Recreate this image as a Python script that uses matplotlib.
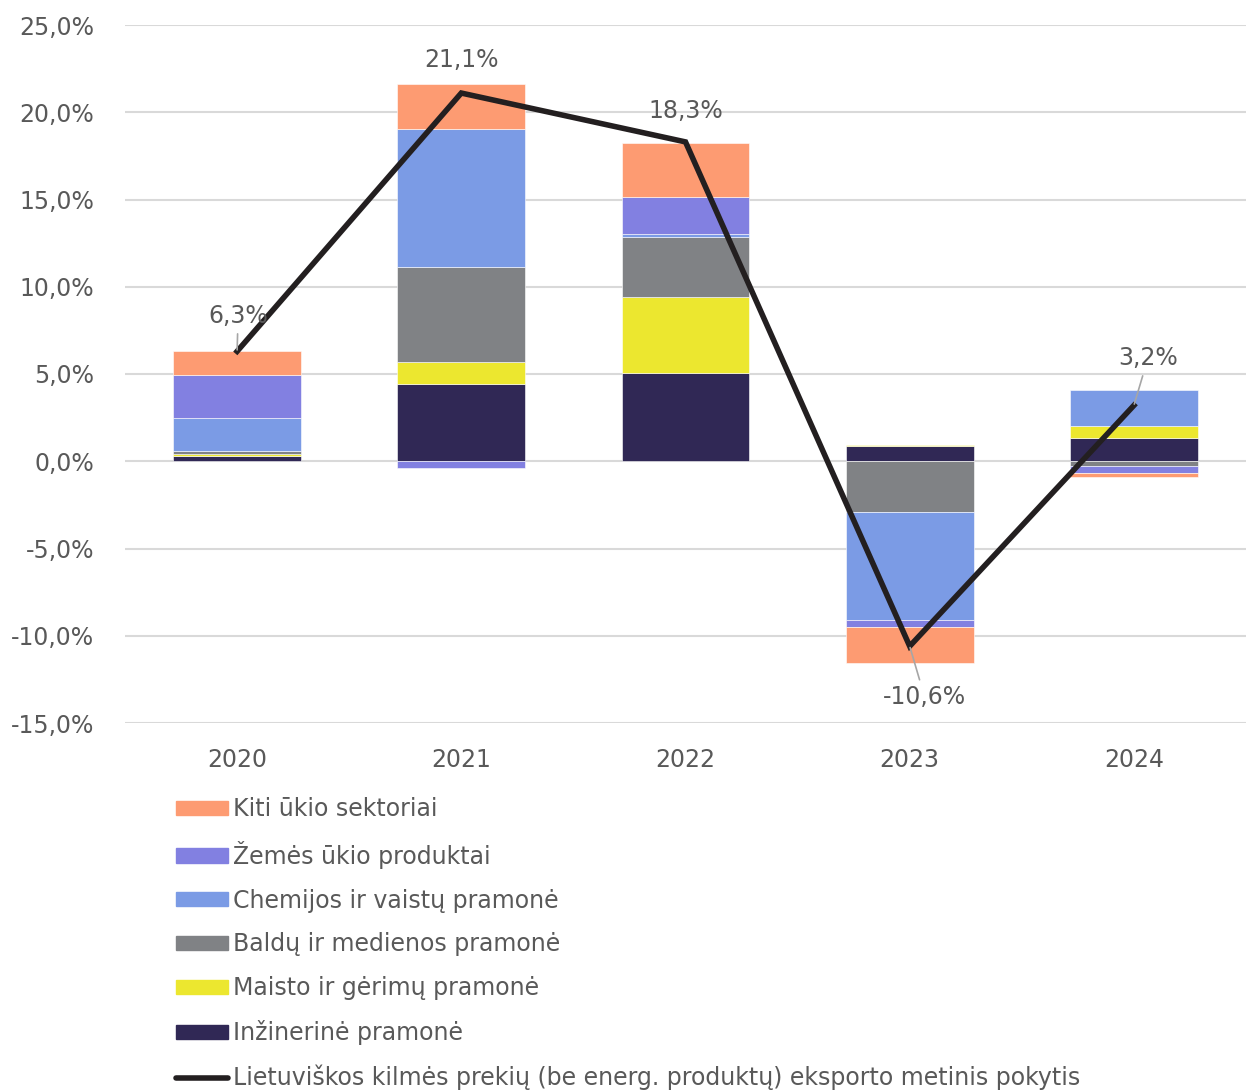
import numpy as np
import matplotlib.pyplot as plt
from matplotlib.patches import Patch
from matplotlib.lines import Line2D

# eksporto pokyčio įnašai, procentiniais punktais
years = ["2020", "2021", "2022", "2023", "2024"]
inzinerine = [0.30, 4.45, 5.05, 0.90, 1.35]
maisto = [0.10, 1.25, 4.35, 0.05, 0.65]
baldu = [0.20, 5.45, 3.45, -2.90, -0.25]
chemijos = [1.85, 7.90, 0.15, -6.20, 2.10]
zemes = [2.50, -0.40, 2.15, -0.40, -0.45]
kiti = [1.35, 2.55, 3.10, -2.05, -0.20]
total = [6.3, 21.1, 18.3, -10.6, 3.2]

series_names = ["Inžinerinė pramonė", "Maisto ir gėrimų pramonė",
                "Baldų ir medienos pramonė", "Chemijos ir vaistų pramonė",
                "Žemės ūkio produktai", "Kiti ūkio sektoriai"]
line_name = "Lietuviškos kilmės prekių (be energ. produktų) eksporto metinis pokytis"
colors = ["#302855", "#ECE72F", "#808285", "#7B9BE5", "#8280E1", "#FD9B72"]

text_col = "#595959"
fs = 17
plt.rcParams['font.family'] = ['DejaVu Sans']

fig = plt.figure(figsize=(12.46, 10.91), dpi=100)
ax = fig.add_axes([125 / 1246, 1 - 723 / 1091, 1 - 125 / 1246, (723 - 25) / 1091])

x = np.arange(len(years))
pos_base = np.zeros(len(years))
neg_base = np.zeros(len(years))
for vals, col in zip([inzinerine, maisto, baldu, chemijos, zemes, kiti], colors):
    v = np.array(vals)
    bottoms = np.where(v >= 0, pos_base, neg_base)
    ax.bar(x, v, bottom=bottoms, width=0.57, color=col, edgecolor="white",
           linewidth=0.4, zorder=2)
    pos_base += np.where(v >= 0, v, 0)
    neg_base += np.where(v < 0, v, 0)

ax.plot(x, total, color="#231F20", lw=4, zorder=3, solid_joinstyle="miter")

# duomenų žymės
offsets = [(1, 35), (0, 33), (0, 31), (15, -51), (14, 47)]
leader = [True, False, False, True, True]
for xi, val, off, ld in zip(x, total, offsets, leader):
    lbl = f"{val:.1f}%".replace(".", ",")
    kw = dict(arrowstyle="-", color="#a6a6a6", lw=1.2, shrinkA=2, shrinkB=1) if ld else None
    ax.annotate(lbl, (xi, val), xytext=(off[0] * 0.72, off[1] * 0.72),
                textcoords="offset points", ha="center", va="center",
                fontsize=fs, color=text_col, arrowprops=kw, zorder=4)

ax.set_xlim(-0.5, 4.5)
ax.set_ylim(-15, 25)
ax.set_yticks(np.arange(-15, 26, 5))
ax.set_yticklabels([f"{t:.1f}%".replace(".", ",") for t in np.arange(-15, 26, 5)])
ax.set_xticks(x)
ax.set_xticklabels(years)
ax.tick_params(axis="both", length=0, labelsize=fs, labelcolor=text_col)
ax.tick_params(axis="y", pad=22)
ax.tick_params(axis="x", pad=18)
ax.grid(axis="y", color="#d9d9d9", lw=1.5, zorder=0)
ax.set_axisbelow(True)
for s in ax.spines.values():
    s.set_visible(False)

handles = [Patch(color=c) for c in colors[::-1]]
handles.append(Line2D([], [], color="#231F20", lw=4, solid_capstyle="round"))
labels = series_names[::-1] + [line_name]
fig.legend(handles, labels, loc="upper left", bbox_to_anchor=(176 / 1246, 1 - 797 / 1091),
           frameon=False, fontsize=fs, labelcolor=text_col, handlelength=2.2,
           handleheight=0.55, handletextpad=0.2, labelspacing=0.84, borderpad=0,
           borderaxespad=0)

fig.savefig("out.png", dpi=100)
